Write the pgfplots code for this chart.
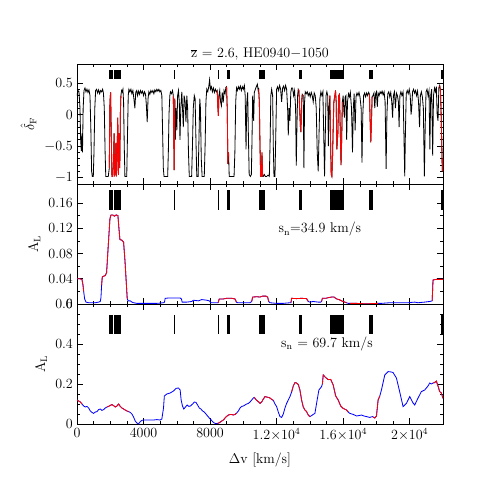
\documentclass[border=0pt]{standalone}
\usepackage{pgfplots}
\usepackage{pgfplotstable}
\pgfplotsset{compat=1.18}

% flux contrast along the spectrum; r=1 marks the red stretches
\pgfplotstableread{
x y r
0 0.30 0
60 0.38 0
120 0.36 0
180 0.10 0
220 -0.40 0
260 -0.58 0
300 -0.30 0
330 -0.60 0
370 0.10 0
420 0.38 0
480 0.42 0
540 0.36 0
600 0.40 0
660 0.35 0
720 0.39 0
780 0.30 0
830 -0.20 0
880 -0.90 0
920 -0.98 0
980 -0.98 0
1020 -0.60 0
1070 0.10 0
1120 0.38 0
1180 0.40 0
1240 0.34 0
1300 0.39 0
1360 0.33 0
1420 0.38 0
1480 0.36 0
1540 0.40 0
1590 0.34 0
1640 0.10 0
1690 -0.60 0
1730 -0.98 0
1800 -0.98 0
1880 -0.98 0
1940 -0.85 1
1980 0.20 1
2020 0.35 1
2060 -0.30 1
2100 -0.98 1
2150 -0.98 1
2190 -0.75 1
2230 -0.30 1
2260 -0.98 1
2300 -0.90 1
2340 -0.45 1
2370 -0.98 1
2410 -0.60 1
2450 -0.05 1
2490 -0.95 1
2530 -0.30 1
2570 -0.85 1
2610 0.05 1
2640 0.30 1
2680 0.38 0
2720 0.36 0
2760 0.40 0
2800 0.20 0
2840 -0.50 0
2880 -0.98 0
2940 -0.98 0
2990 -0.98 0
3030 -0.40 0
3080 0.30 0
3120 0.40 0
3180 0.36 0
3240 0.40 0
3300 0.33 0
3360 0.38 0
3420 0.25 0
3480 0.10 0
3530 0.35 0
3590 0.38 0
3640 0.30 0
3700 0.37 0
3760 0.32 0
3820 0.38 0
3880 0.34 0
3940 0.37 0
4000 0.30 0
4060 0.36 0
4120 0.32 0
4170 0.15 0
4220 -0.12 0
4270 0.25 0
4320 0.36 0
4380 0.32 0
4440 0.38 0
4500 0.35 0
4560 0.38 0
4620 0.33 0
4680 0.39 0
4740 0.36 0
4800 0.40 0
4860 0.37 0
4920 0.40 0
4980 0.36 0
5040 0.38 0
5100 0.30 0
5140 -0.20 0
5190 -0.85 0
5230 -0.98 0
5300 -0.98 0
5380 -0.98 0
5450 -0.98 0
5490 -0.60 0
5530 0.00 0
5580 0.30 0
5620 0.36 0
5680 0.33 0
5740 0.38 0
5790 0.30 1
5810 -0.20 1
5840 -0.88 1
5860 -0.30 1
5880 0.25 1
5910 -0.40 0
5950 0.10 0
6000 -0.25 0
6050 0.30 0
6100 0.38 0
6150 0.20 0
6190 -0.40 0
6240 0.10 0
6300 0.36 0
6350 0.05 0
6390 -0.20 0
6440 0.30 0
6500 0.20 0
6550 -0.12 0
6600 0.30 0
6650 0.10 0
6700 -0.60 0
6750 -0.98 0
6820 -0.98 0
6890 -0.98 0
6940 -0.50 0
6990 0.10 0
7050 0.30 0
7100 0.25 0
7150 -0.40 0
7200 -0.98 0
7280 -0.98 0
7330 -0.40 0
7380 0.25 0
7420 0.10 0
7470 -0.70 0
7520 -0.98 0
7590 -0.98 0
7650 -0.98 0
7700 -0.50 0
7750 0.20 0
7800 0.40 0
7860 0.36 0
7920 0.44 0
7970 0.55 0
8020 0.40 0
8080 0.44 0
8140 0.36 0
8200 0.42 0
8260 0.35 0
8320 0.40 0
8380 0.36 0
8430 0.38 1
8470 0.10 1
8500 -0.02 1
8530 0.30 1
8580 0.38 0
8630 0.20 0
8680 0.14 0
8730 0.35 0
8790 0.19 0
8840 0.38 0
8900 0.33 0
8950 0.43 0
8990 0.44 1
9030 0.10 1
9070 -0.78 1
9110 -0.60 1
9150 -0.98 0
9200 -0.98 0
9280 -0.98 0
9360 -0.98 0
9440 -0.98 0
9490 -0.60 0
9540 0.20 0
9590 0.42 0
9640 0.38 0
9700 0.44 0
9760 0.40 0
9820 0.45 0
9880 0.38 0
9940 0.44 0
10000 0.40 0
10060 0.46 0
10110 0.30 0
10160 -0.55 0
10210 0.20 0
10260 0.35 0
10300 -0.30 0
10350 -0.95 0
10420 -0.98 0
10480 -0.95 0
10520 -0.40 0
10560 0.30 0
10620 -0.10 0
10660 0.35 0
10720 0.40 0
10780 0.44 0
10840 0.48 0
10890 0.38 0
10920 0.40 1
10960 0.20 1
11000 -0.50 1
11040 -0.98 1
11080 -0.98 1
11120 -0.60 1
11160 -0.98 1
11200 -0.98 0
11260 -0.95 0
11320 -0.98 0
11400 -0.98 0
11480 -0.96 0
11560 -0.98 0
11610 -0.40 0
11650 0.30 0
11700 0.40 0
11760 0.30 0
11800 -0.50 0
11840 -0.98 0
11900 -0.98 0
11950 -0.30 0
12000 0.40 0
12060 0.44 0
12120 0.38 0
12180 0.46 0
12240 0.40 0
12300 0.20 0
12360 0.42 0
12420 0.45 0
12480 0.38 0
12540 0.46 0
12600 0.40 0
12660 0.10 0
12700 -0.33 0
12750 0.10 0
12800 -0.10 0
12850 0.35 0
12900 0.42 0
12960 0.42 0
13020 0.30 0
13080 0.38 0
13140 0.10 0
13180 -0.81 0
13220 -0.20 0
13260 0.30 0
13300 0.40 1
13340 0.38 1
13380 0.10 1
13430 -0.20 1
13460 -0.28 1
13500 0.20 1
13540 0.32 1
13600 0.30 0
13640 -0.85 0
13680 0.20 0
13720 0.36 0
13780 0.33 0
13840 0.36 0
13900 0.30 0
13960 0.34 0
14020 0.28 0
14080 0.35 0
14140 0.30 0
14200 0.20 0
14260 0.34 0
14320 0.30 0
14380 0.10 0
14440 -0.60 0
14500 -0.90 0
14550 -0.30 0
14600 0.25 0
14660 0.36 0
14720 0.30 0
14780 0.36 0
14830 -0.30 0
14880 -0.98 0
14920 -0.40 0
14970 0.30 0
15020 0.36 0
15070 0.30 0
15110 -0.50 0
15150 0.10 0
15200 0.30 1
15240 -0.40 1
15280 -0.95 1
15320 -0.98 1
15360 -0.70 1
15400 -0.20 1
15440 0.20 1
15500 0.30 1
15540 0.38 1
15580 0.20 1
15620 -0.55 1
15680 -0.30 1
15730 0.30 1
15780 0.32 1
15820 -0.20 1
15870 -0.80 1
15910 -0.40 1
15950 0.20 1
16000 0.30 0
16040 0.05 0
16080 -0.05 0
16120 0.28 0
16170 0.30 0
16210 -0.40 0
16260 0.20 0
16320 0.33 0
16380 0.28 0
16430 0.35 0
16500 0.10 0
16560 -0.60 0
16610 0.10 0
16660 0.33 0
16720 -0.25 0
16770 0.28 0
16830 0.34 0
16890 0.30 0
16950 0.35 0
17010 0.28 0
17080 0.10 0
17130 -0.76 0
17180 0.00 0
17230 0.30 0
17290 0.34 0
17350 0.28 0
17410 0.34 0
17470 0.30 0
17530 0.35 0
17580 0.32 1
17620 -0.10 1
17660 -0.44 1
17700 -0.10 1
17740 0.28 1
17790 0.30 0
17850 0.34 0
17900 0.10 0
17950 0.33 0
18000 0.36 0
18050 0.12 0
18100 0.34 0
18160 0.30 0
18220 0.36 0
18280 0.33 0
18340 0.37 0
18400 0.31 0
18460 0.36 0
18520 0.20 0
18580 -0.86 0
18630 0.00 0
18680 0.33 0
18740 0.36 0
18800 0.28 0
18860 0.35 0
18920 0.20 0
18970 -0.05 0
19020 0.30 0
19080 0.36 0
19140 0.10 0
19200 0.34 0
19260 0.30 0
19320 0.20 0
19360 -0.20 0
19410 0.30 0
19470 0.36 0
19530 0.30 0
19600 0.36 0
19650 -0.30 0
19700 -0.98 0
19740 -0.30 0
19790 0.33 0
19850 0.38 0
19910 0.33 0
19970 0.40 0
20030 0.30 0
20080 0.00 0
20120 0.10 0
20170 0.36 0
20230 0.40 0
20290 0.34 0
20350 0.38 0
20410 0.30 0
20470 0.37 0
20530 0.20 0
20590 -0.20 0
20640 0.30 0
20700 0.36 0
20760 0.28 0
20820 0.10 0
20880 -0.98 0
20930 -0.20 0
20980 0.36 0
21040 0.40 0
21100 0.30 0
21160 0.38 0
21210 -0.55 0
21260 0.30 0
21320 0.40 0
21380 -0.65 0
21430 0.30 0
21490 0.42 0
21550 0.36 0
21600 0.44 0
21650 0.00 0
21700 -0.10 0
21750 0.42 0
21800 0.46 1
21840 0.40 1
21880 0.10 1
21920 -0.40 1
21960 -0.90 1
22000 -0.70 1
}\spec

% A_L for s_n = 34.9 km/s; r=1 red, r=0 blue
\pgfplotstableread{
x y r
0 0.040 1
150 0.040 1
300 0.039 1
360 0.030 1
400 0.020 1
460 0.008 0
540 0.003 0
700 0.002 0
900 0.002 0
1100 0.002 0
1300 0.003 0
1400 0.004 0
1440 0.010 0
1480 0.030 1
1520 0.043 1
1600 0.044 1
1700 0.045 1
1780 0.050 1
1850 0.080 1
1920 0.110 1
1980 0.135 1
2040 0.141 1
2150 0.141 1
2250 0.139 1
2350 0.141 1
2460 0.140 1
2520 0.120 1
2580 0.102 1
2700 0.101 1
2800 0.098 1
2880 0.070 1
2960 0.035 1
3020 0.008 1
3080 0.005 0
3200 0.005 0
3300 0.003 0
3400 0.002 0
3600 0.001 0
4000 0.001 0
4400 0.001 0
4800 0.001 0
5200 0.002 0
5260 0.003 0
5300 0.009 0
5500 0.0095 0
5800 0.0095 0
6200 0.0095 0
6280 0.008 0
6320 0.003 0
6600 0.003 0
6900 0.004 0
7000 0.006 0
7300 0.005 0
7500 0.007 0
7800 0.006 0
7950 0.005 0
8050 0.002 0
8400 0.002 0
8480 0.002 1
8550 0.008 1
8800 0.008 1
9000 0.009 1
9300 0.009 1
9500 0.008 1
9580 0.003 1
9650 0.002 0
10000 0.002 0
10400 0.002 0
10500 0.004 1
10560 0.011 1
10800 0.0115 1
11000 0.011 1
11150 0.0125 1
11350 0.0125 1
11460 0.011 1
11520 0.004 1
11600 0.002 0
12000 0.001 0
12400 0.001 0
12800 0.002 0
12860 0.002 1
12900 0.009 1
13200 0.0085 1
13500 0.009 1
13800 0.0085 1
13900 0.004 1
14000 0.003 0
14200 0.004 0
14500 0.003 0
14650 0.003 0
14700 0.004 1
14750 0.009 1
14950 0.009 1
15100 0.010 1
15300 0.011 1
15450 0.011 1
15600 0.008 1
15750 0.007 1
15900 0.005 1
16200 0.002 1
16300 0.001 0
16400 0.001 1
16800 0.001 1
17200 0.0005 1
17600 0.0005 1
18100 0.001 1
18300 0.001 0
18800 0.002 0
19400 0.002 0
19900 0.002 0
20300 0.003 0
20500 0.002 0
20900 0.003 0
21200 0.004 0
21350 0.005 1
21400 0.038 1
21600 0.039 1
22000 0.039 1
}\amid

% A_L for s_n = 69.7 km/s; r=1 red, r=0 blue
\pgfplotstableread{
x y r
0 0.120 1
100 0.115 1
200 0.110 1
300 0.100 1
400 0.090 0
500 0.085 0
600 0.088 0
700 0.080 0
800 0.065 0
900 0.058 0
1000 0.053 0
1100 0.060 0
1200 0.062 0
1300 0.072 0
1400 0.075 0
1500 0.068 0
1600 0.072 0
1700 0.080 0
1800 0.085 1
1900 0.088 1
2000 0.093 1
2100 0.097 1
2200 0.092 1
2300 0.085 1
2400 0.090 1
2500 0.100 1
2600 0.088 1
2700 0.080 1
2800 0.075 1
2900 0.070 1
3000 0.065 1
3100 0.062 1
3200 0.058 0
3300 0.050 0
3400 0.035 0
3500 0.015 0
3600 0.005 0
3700 0.000 0
3800 0.012 0
3900 0.018 0
4000 0.020 0
4200 0.020 0
4400 0.020 0
4600 0.020 0
4800 0.022 0
5000 0.020 0
5100 0.025 0
5200 0.080 0
5250 0.140 0
5400 0.150 0
5600 0.155 0
5800 0.165 0
5950 0.178 0
6100 0.180 0
6200 0.170 0
6260 0.120 0
6340 0.090 0
6420 0.075 0
6520 0.085 0
6620 0.095 0
6720 0.088 0
6820 0.090 0
6950 0.100 0
7050 0.110 0
7150 0.108 0
7250 0.095 0
7350 0.080 0
7450 0.075 0
7550 0.065 0
7650 0.060 0
7750 0.050 0
7850 0.040 0
7950 0.030 0
8050 0.022 0
8150 0.012 0
8250 0.005 0
8350 0.002 0
8450 0.003 1
8550 0.006 1
8650 0.012 1
8800 0.020 1
8950 0.035 1
9100 0.045 1
9250 0.048 1
9400 0.045 1
9500 0.048 1
9600 0.055 1
9700 0.065 0
9800 0.080 0
9900 0.088 0
10000 0.090 0
10100 0.095 0
10200 0.100 0
10300 0.103 0
10400 0.110 0
10500 0.120 0
10600 0.130 0
10650 0.133 1
10700 0.128 1
10800 0.118 1
10900 0.112 1
11000 0.103 1
11100 0.110 1
11200 0.125 1
11300 0.137 1
11400 0.135 1
11500 0.133 1
11600 0.130 1
11700 0.123 1
11800 0.118 1
11900 0.100 0
12000 0.087 0
12100 0.060 0
12200 0.037 0
12300 0.033 0
12400 0.050 0
12500 0.080 0
12600 0.103 0
12700 0.120 0
12800 0.137 0
12900 0.160 1
13000 0.190 1
13100 0.207 1
13200 0.205 1
13300 0.198 1
13400 0.170 1
13500 0.120 1
13600 0.085 1
13700 0.070 1
13800 0.062 1
13900 0.045 1
14000 0.037 1
14100 0.042 0
14200 0.048 0
14300 0.053 0
14400 0.103 0
14540 0.170 0
14700 0.187 0
14750 0.200 1
14800 0.245 1
14950 0.232 1
15100 0.222 1
15250 0.223 1
15400 0.195 1
15550 0.140 1
15700 0.120 1
15850 0.090 1
16000 0.078 1
16200 0.070 1
16300 0.060 1
16400 0.053 0
16600 0.048 0
16800 0.040 0
17000 0.043 0
17100 0.045 0
17250 0.040 0
17400 0.037 0
17600 0.033 0
17750 0.037 0
17800 0.035 1
17900 0.030 1
18000 0.040 1
18100 0.120 1
18200 0.140 1
18300 0.170 0
18500 0.245 0
18700 0.262 0
18900 0.260 0
19000 0.257 0
19200 0.230 0
19400 0.160 0
19600 0.087 0
19800 0.103 0
20000 0.137 0
20200 0.105 0
20300 0.095 0
20500 0.130 0
20700 0.162 0
20900 0.170 0
21100 0.190 0
21200 0.205 0
21300 0.200 0
21400 0.205 1
21500 0.207 1
21600 0.215 1
21700 0.190 1
21800 0.162 1
21900 0.155 1
22000 0.128 1
}\abot

% black bars marking the red stretches, drawn in every panel
\newcommand{\bars}[2]{%
  \addplot[fill=black,draw=none] coordinates {(1940,#1) (2140,#1) (2140,#2) (1940,#2)} -- cycle;
  \addplot[fill=black,draw=none] coordinates {(2240,#1) (2640,#1) (2640,#2) (2240,#2)} -- cycle;
  \addplot[fill=black,draw=none] coordinates {(5820,#1) (5880,#1) (5880,#2) (5820,#2)} -- cycle;
  \addplot[fill=black,draw=none] coordinates {(8460,#1) (8520,#1) (8520,#2) (8460,#2)} -- cycle;
  \addplot[fill=black,draw=none] coordinates {(8995,#1) (9195,#1) (9195,#2) (8995,#2)} -- cycle;
  \addplot[fill=black,draw=none] coordinates {(10960,#1) (11300,#1) (11300,#2) (10960,#2)} -- cycle;
  \addplot[fill=black,draw=none] coordinates {(13340,#1) (13540,#1) (13540,#2) (13340,#2)} -- cycle;
  \addplot[fill=black,draw=none] coordinates {(15200,#1) (16050,#1) (16050,#2) (15200,#2)} -- cycle;
  \addplot[fill=black,draw=none] coordinates {(17570,#1) (17810,#1) (17810,#2) (17570,#2)} -- cycle;
  \addplot[fill=black,draw=none] coordinates {(21860,#1) (22000,#1) (22000,#2) (21860,#2)} -- cycle;
}

\begin{document}
\begin{tikzpicture}
\useasboundingbox (0,0) rectangle (15.03,15.03);
\pgfplotsset{
  panel/.style={
    scale only axis, width=10.98cm, height=3.6cm,
    xmin=0, xmax=22000, xtick={0,4000,...,20000}, minor x tick num=3,
    scaled x ticks=false, scaled y ticks=false,
    tick align=inside, major tick length=0.18cm, minor tick length=0.1cm,
    every tick/.style={black, line width=0.5pt},
    axis line style={line width=0.6pt},
    tick label style={font=\large},
    label style={font=\large},
    unbounded coords=jump,
  },
  redpart/.style={red, line width=0.7pt, restrict expr to domain={\thisrow{r}}{0.5:1.5}},
}

\begin{axis}[panel, at={(2.31cm,9.51cm)}, anchor=south west,
  ymin=-1.1, ymax=0.8, ytick={-1,-0.5,0,0.5}, minor y tick num=4,
  xticklabels={},
  ylabel={$\hat{\delta}_{\rm F}$},
  title style={font=\large, yshift=-6.5pt},
  title={$\overline{\rm z}$ = 2.6, HE0940$-$1050}]
\addplot[black, line width=0.7pt] table[x=x,y=y] {\spec};
\addplot[redpart] table[x=x,y=y] {\spec};
\bars{0.56}{0.70}
\end{axis}

\begin{axis}[panel, at={(2.31cm,5.91cm)}, anchor=south west,
  ymin=0, ymax=0.19, ytick={0,0.04,0.08,0.12,0.16},
  yticklabels={0,0.04,0.08,0.12,0.16}, minor y tick num=1,
  xticklabels={},
  ylabel={A$_{\rm L}$}]
\addplot[blue, line width=0.7pt] table[x=x,y=y] {\amid};
\addplot[redpart] table[x=x,y=y] {\amid};
\bars{0.149}{0.180}
\node[font=\large] at (axis cs:14600,0.118) {s$_{\rm n}$=34.9 km/s};
\end{axis}

\begin{axis}[panel, at={(2.31cm,2.31cm)}, anchor=south west,
  ymin=0, ymax=0.6, ytick={0,0.2,0.4,0.6},
  yticklabels={0,0.2,0.4,0.6}, minor y tick num=3,
  xticklabels={0,4000,8000,$1.2{\times}10^4$,$1.6{\times}10^4$,$2{\times}10^4$},
  xlabel={$\Delta$v [km/s]},
  xlabel style={yshift=-0.12cm},
  ylabel={A$_{\rm L}$}]
\addplot[blue, line width=0.7pt] table[x=x,y=y] {\abot};
\addplot[redpart] table[x=x,y=y] {\abot};
\bars{0.45}{0.545}
\node[font=\large] at (axis cs:15025,0.40) {s$_{\rm n}$ = 69.7 km/s};
\end{axis}
\end{tikzpicture}
\end{document}
